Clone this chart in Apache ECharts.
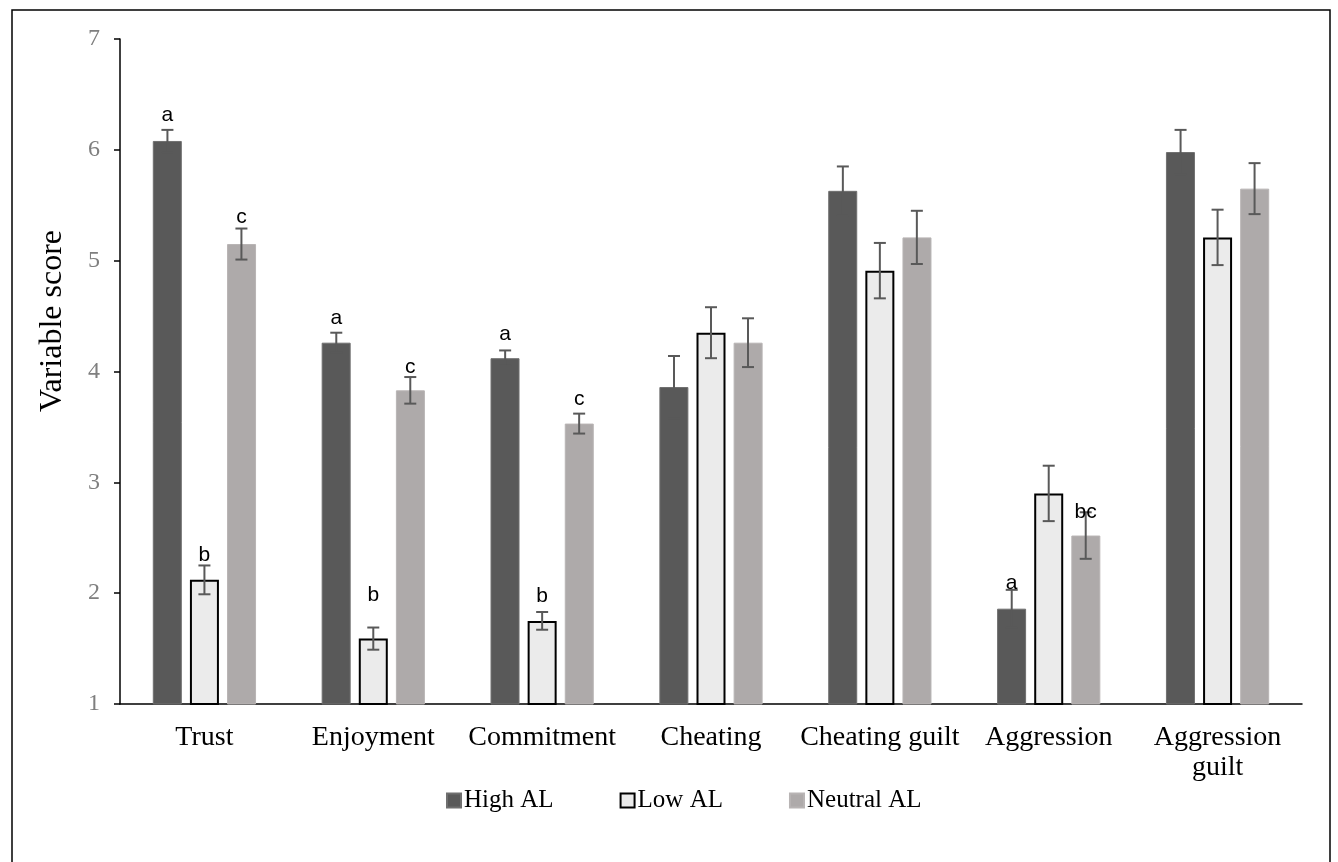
<!DOCTYPE html>
<html>
<head>
<meta charset="utf-8">
<script src="https://cdn.jsdelivr.net/npm/echarts@6/dist/echarts.min.js"></script>
<style>
  html, body { margin: 0; padding: 0; background: #fff; }
  #view { width: 1338px; height: 862px; }
</style>
</head>
<body>
<div id="view"></div>
<script>
var categories = ["Trust", "Enjoyment", "Commitment", "Cheating", "Cheating guilt", "Aggression", "Aggression\nguilt"];
var yTicks = [1, 2, 3, 4, 5, 6, 7];

var highAL = [6.08, 4.26, 4.12, 3.86, 5.63, 1.86, 5.98];
var highErr = [0.10, 0.09, 0.07, 0.28, 0.22, 0.17, 0.20];
var lowAL = [2.12, 1.59, 1.75, 4.35, 4.91, 2.90, 5.21];
var lowErr = [0.13, 0.10, 0.08, 0.23, 0.25, 0.25, 0.25];
var neutralAL = [5.15, 3.83, 3.53, 4.26, 5.21, 2.52, 5.65];
var neutralErr = [0.14, 0.12, 0.09, 0.22, 0.24, 0.21, 0.23];

// significance letters and the value height they sit at
var highLetters = ["a", "a", "a", "", "", "a", ""];
var highLetterY = [6.31, 4.48, 4.34, 0, 0, 2.09, 0];
var lowLetters = ["b", "b", "b", "", "", "", ""];
var lowLetterY = [2.34, 1.98, 1.97, 0, 0, 0, 0];
var neutralLetters = ["c", "c", "c", "", "", "bc", ""];
var neutralLetterY = [5.39, 4.04, 3.75, 0, 0, 2.73, 0];

var BAR_W = 29;
var STEP = 37; // bar width + gap
var CAP = 12;

var errData = [];
var letterData = [];
[[highAL, highErr, highLetters, highLetterY],
 [lowAL, lowErr, lowLetters, lowLetterY],
 [neutralAL, neutralErr, neutralLetters, neutralLetterY]].forEach(function (s, k) {
  for (var i = 0; i < categories.length; i++) {
    errData.push([i, s[0][i] - s[1][i], s[0][i] + s[1][i], k - 1]);
    if (s[2][i]) letterData.push([i, s[3][i], k - 1, s[2][i]]);
  }
});

function renderErr(params, api) {
  var off = api.value(3) * STEP;
  var lo = api.coord([api.value(0), api.value(1)]);
  var hi = api.coord([api.value(0), api.value(2)]);
  var x = lo[0] + off;
  var st = { stroke: "#595959", lineWidth: 2 };
  return {
    type: "group",
    children: [
      { type: "line", shape: { x1: x, y1: lo[1], x2: x, y2: hi[1] }, style: st },
      { type: "line", shape: { x1: x - CAP / 2, y1: lo[1], x2: x + CAP / 2, y2: lo[1] }, style: st },
      { type: "line", shape: { x1: x - CAP / 2, y1: hi[1], x2: x + CAP / 2, y2: hi[1] }, style: st }
    ]
  };
}

function renderLetter(params, api) {
  var p = api.coord([api.value(0), api.value(1)]);
  return {
    type: "text",
    x: p[0] + api.value(2) * STEP,
    y: p[1],
    style: {
      text: letterData[params.dataIndex][3],
      fontFamily: "Liberation Sans",
      fontSize: 21,
      fill: "#000",
      align: "center",
      verticalAlign: "middle"
    }
  };
}

var serif = "Liberation Serif";

var option = {
  animation: false,
  backgroundColor: "#fff",
  graphic: [{
    type: "rect",
    shape: { x: 12, y: 10, width: 1318, height: 900 },
    style: { fill: null, stroke: "#000", lineWidth: 1.5 }
  }, {
    // axis title, placed as in the original (a bit above the plot middle)
    type: "text",
    x: 53,
    y: 321,
    rotation: Math.PI / 2,
    style: {
      text: "Variable score",
      fontFamily: serif,
      fontSize: 32,
      fill: "#000",
      align: "center",
      verticalAlign: "middle"
    }
  }],
  legend: {
    data: ["High AL", "Low AL", "Neutral AL"],
    left: 441,
    top: 783,
    itemWidth: 14,
    itemHeight: 14,
    itemGap: 66,
    icon: "rect",
    textStyle: { fontFamily: serif, fontSize: 25, color: "#000", padding: [0, 0, 0, -2] }
  },
  grid: { left: 120, right: 36, top: 39, bottom: 158 },
  xAxis: {
    type: "category",
    data: categories,
    axisLine: { lineStyle: { color: "#000", width: 1.5 } },
    axisTick: { length: 6, lineStyle: { color: "#000", width: 1.5 } },
    axisLabel: { fontFamily: serif, fontSize: 28, color: "#000", margin: 19, lineHeight: 30, interval: 0 }
  },
  yAxis: {
    type: "value",
    min: 1,
    max: 7,
    interval: 1,
    splitLine: { show: false },
    axisLine: { show: true, lineStyle: { color: "#000", width: 1.5 } },
    axisTick: { show: true, length: 6, lineStyle: { color: "#000", width: 1.5 } },
    axisLabel: {
      fontFamily: serif, fontSize: 24, color: "#7f7f7f", margin: 20,
      formatter: function (v) { return yTicks.indexOf(v) >= 0 ? String(v) : ""; }
    }
  },
  series: [
    {
      name: "High AL", type: "bar", data: highAL, barWidth: BAR_W, barGap: "28%",
      itemStyle: { color: "#595959", borderColor: "#6f6f6f", borderWidth: 1 }
    },
    {
      name: "Low AL", type: "bar", data: lowAL, barWidth: BAR_W,
      itemStyle: { color: "#ebebeb", borderColor: "#000", borderWidth: 2 }
    },
    {
      name: "Neutral AL", type: "bar", data: neutralAL, barWidth: BAR_W,
      itemStyle: { color: "#aeaaaa", borderColor: "#b8b4b4", borderWidth: 1 }
    },
    {
      type: "custom", name: "err", data: errData, renderItem: renderErr, z: 5,
      encode: { x: 0, y: [1, 2] }, silent: true
    },
    {
      type: "custom", name: "letters", data: letterData, renderItem: renderLetter, z: 6,
      encode: { x: 0, y: 1 }, silent: true
    }
  ]
};

echarts.init(document.getElementById("view")).setOption(option);
</script>
</body>
</html>
